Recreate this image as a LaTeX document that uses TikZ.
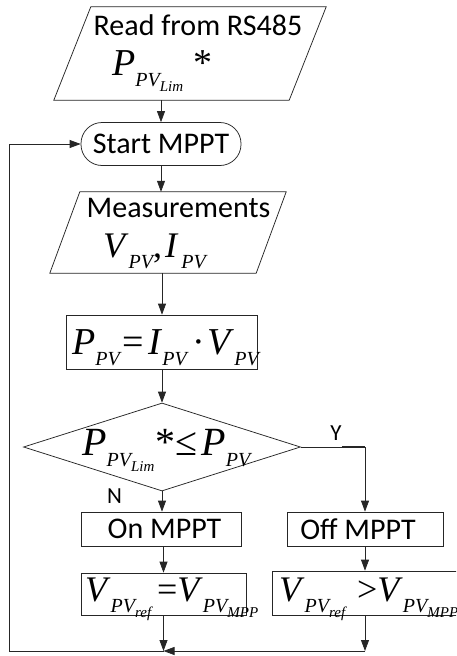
\documentclass[tikz,border=0pt]{standalone}
\usepackage{fontspec}
\setmainfont{Carlito}
\newfontfamily\tms{Liberation Serif}
\usetikzlibrary{arrows.meta,shapes.geometric,calc}

% subscript and second-level subscript, Times italic
\newcommand\sbs[1]{\raisebox{-11pt}{\fontsize{20}{20}\selectfont\itshape #1}}
\newcommand\ssbs[1]{\raisebox{-5pt}{\fontsize{15}{15}\selectfont\itshape #1}}

\begin{document}
\begin{tikzpicture}[x=1pt,y=-1pt,
  line/.style={draw=black!85, line width=0.75pt},
  arr/.style={line, -{Triangle[length=11pt,width=8pt]}},
  lbl/.style={font=\fontsize{30}{30}\selectfont, inner sep=0},
  yn/.style={font=\fontsize{23}{23}\selectfont, inner sep=0, anchor=base},
  eq/.style={font=\tms\fontsize{38}{38}\selectfont, inner sep=0, anchor=base west},
  eqs/.style={font=\tms\fontsize{36}{36}\selectfont, inner sep=0, anchor=base west},
  box/.style={line, rectangle, inner sep=0},
  frame/.style={rectangle, inner sep=0},
]
\clip (0,0) rectangle (456,656);
\fill[white] (0,0) rectangle (456,656);

% input: set point from RS485
\node[frame, minimum width=235, minimum height=93] (read) at (190,53.5) {};
\draw[line] ($(read.north west)+(18.5,0)$) -- ($(read.north east)+(18.5,0)$)
  -- ($(read.south east)-(18.5,0)$) -- ($(read.south west)-(18.5,0)$) -- cycle;
\node[lbl, anchor=base] (readtxt) at (198,35) {Read from RS485};
\node[eq] (plim) at (112,75) {\textit{P}\sbs{PV\ssbs{Lim}}\hspace{10pt}*};

% start terminal
\node[box, lbl, rounded corners=21, minimum width=160, minimum height=43] (start) at (161,144) {Start MPPT};

% input: measurements
\node[frame, minimum width=206, minimum height=81] (meas) at (168,232.5) {};
\draw[line] ($(meas.north west)+(15,0)$) -- ($(meas.north east)+(15,0)$)
  -- ($(meas.south east)-(15,0)$) -- ($(meas.south west)-(15,0)$) -- cycle;
\node[lbl, anchor=base] (meastxt) at (178.5,217) {Measurements};
\node[eqs] (vi) at (103,257) {\textit{V}\sbs{PV},\hspace{3pt}\textit{I}\sbs{\hspace{3pt}PV}};

% power calculation
\node[box, minimum width=191, minimum height=54] (pcalc) at (162,342) {};
\node[eq] (peq) at (72,354) {\textit{P}\sbs{PV}\hspace{3pt}=\hspace{4pt}\textit{I}\sbs{PV}\hspace{6pt}·\hspace{2pt}\textit{V}\sbs{PV}};

% decision
\node[line, diamond, inner sep=0, minimum width=277, minimum height=88] (dec) at (162,447) {};
\node[eq, font=\tms\fontsize{40}{40}\selectfont] (cond) at (82,455) {\textit{P}\sbs{PV\ssbs{Lim}}\hspace{1pt}*≤\hspace{4pt}\textit{P}\sbs{PV}};
\node[yn] (ylab) at (336,440) {Y};
\node[yn] (nlab) at (114.5,503) {N};

% branches
\node[box, lbl, minimum width=160, minimum height=34] (on) at (161,529) {\hspace*{7pt}On MPPT};
\node[box, lbl, minimum width=156, minimum height=34] (off) at (365,529) {Off MPPT\hspace*{14pt}};

\node[box, minimum width=165, minimum height=42] (vl) at (163.5,594) {};
\node[eqs] (vleq) at (85,601) {\textit{V}\sbs{PV\ssbs{ref}}\hspace{6pt}=\textit{V}\sbs{PV\ssbs{MPP}}};
\node[box, minimum width=200, minimum height=44] (vr) at (372,593) {};
\node[eqs] (vreq) at (279,601) {\textit{V}\sbs{PV\ssbs{ref}}\hspace{12pt}>\textit{V}\sbs{PV\ssbs{MPP}}};

% loop-back points
\coordinate (join) at (163.5,651);
\coordinate (rc) at (365,651);
\coordinate (lc) at (9,651);

% connectors
\draw[arr] (read.south -| start.north) -- (start.north);
\draw[arr] (start.south) -- (start.south |- meas.north);
\draw[arr] (meas.south -| pcalc.north) -- (pcalc.north);
\draw[arr] (pcalc.south) -- (dec.north);
\draw[arr] (dec.south) -- (dec.south |- on.north);
\draw[arr] (dec.east) -| (off.north);
\draw[line, line width=1.6pt] (ylab.south east |- dec.east) -- (dec.east -| off.north);
\draw[arr] (on.south -| vl.north) -- (vl.north);
\draw[arr] (off.south) -- (off.south |- vr.north);
\draw[arr] (vl.south) -- (join);
\draw[arr] (vr.south -| rc) -- (rc);
\draw[arr] (rc) -- (join);
\draw[arr] (join) -- (lc) |- (start.west);
\end{tikzpicture}
\end{document}
